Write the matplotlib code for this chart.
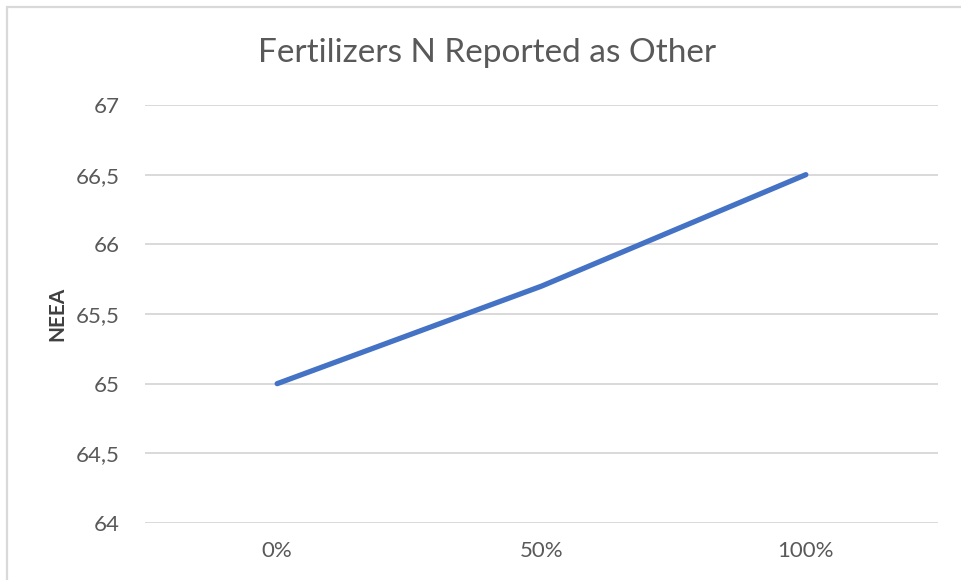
import matplotlib
matplotlib.use("Agg")
import matplotlib.pyplot as plt
from matplotlib.patches import Rectangle

# Data
categories = ["0%", "50%", "100%"]
neea_values = [65.0, 65.7, 66.5]
y_ticks = [64.0, 64.5, 65.0, 65.5, 66.0, 66.5, 67.0]
y_tick_labels = ["64", "64,5", "65", "65,5", "66", "66,5", "67"]

W, H = 961, 580
fig = plt.figure(figsize=(W / 100, H / 100), dpi=100)
plt.rcParams["font.family"] = ["Lato", "DejaVu Sans"]

text_color = "#595959"
grid_color = "#D9D9D9"

ax = fig.add_axes([145 / W, (H - 523) / H, (938 - 145) / W, (523 - 105) / H])
x = list(range(len(categories)))
ax.plot(x, neea_values, color="#4472C4", linewidth=3.8, solid_capstyle="round", zorder=3)

ax.set_xlim(-0.5, len(categories) - 0.5)
ax.set_ylim(y_ticks[0], y_ticks[-1])
ax.set_yticks(y_ticks)
ax.set_yticklabels(y_tick_labels)
ax.set_xticks(x)
ax.set_xticklabels(categories)

for s in ax.spines.values():
    s.set_visible(False)
ax.grid(axis="y", color=grid_color, linewidth=1.4)
ax.set_axisbelow(True)
ax.tick_params(axis="both", length=0, labelsize=16, colors=text_color)
ax.tick_params(axis="y", pad=18)
ax.tick_params(axis="x", pad=13)

ax.set_ylabel("NEEA", fontsize=15, color="#404040", fontweight="bold")
ax.yaxis.set_label_coords((67 - 145) / (938 - 145), 0.5)
fig.text((256 + 718) / 2 / W, 1 - 53 / H, "Fertilizers N Reported as Other",
         fontsize=24, color=text_color, ha="center", va="center")

# Chart border
fig.patches.append(Rectangle((7 / W, -0.1), 1.2, 1.1 - 7 / H,
                             transform=fig.transFigure, fill=False,
                             edgecolor=grid_color, linewidth=1.6))

fig.savefig("out.png", dpi=100)
